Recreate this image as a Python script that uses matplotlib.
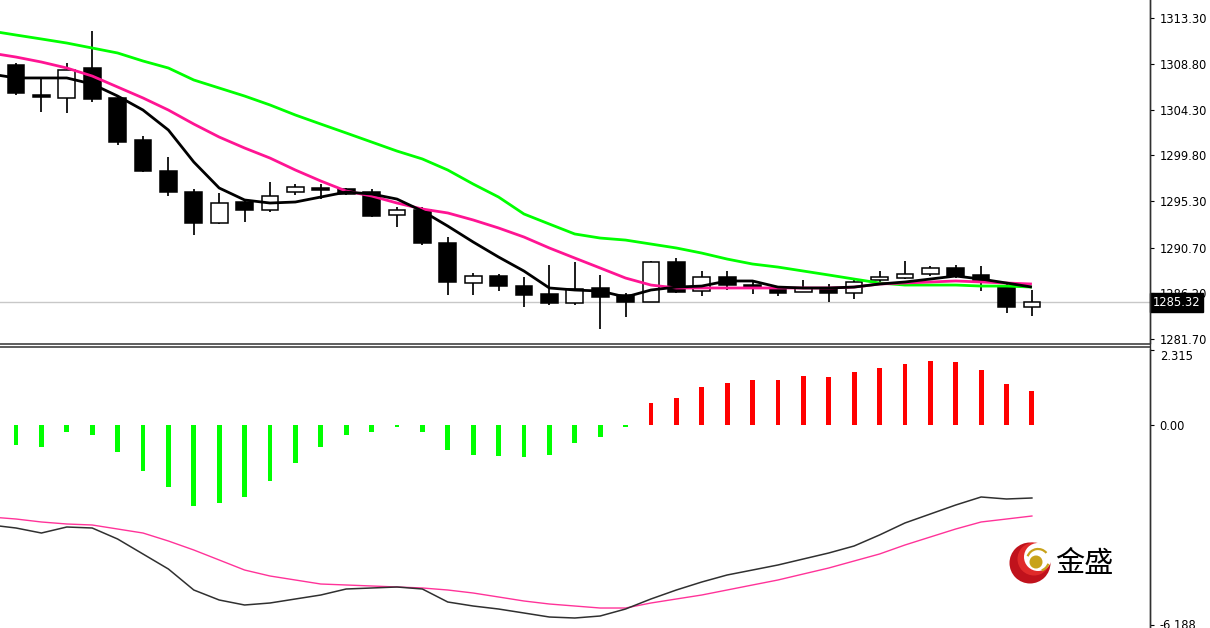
import matplotlib
matplotlib.use("Agg")
import matplotlib.pyplot as plt
from matplotlib.patches import Rectangle, Circle, Arc
from matplotlib.transforms import blended_transform_factory
import numpy as np

# ---------------- data ----------------
opens = [1308.70, 1305.74, 1305.45, 1308.40, 1305.45, 1301.31, 1298.25, 1296.18, 1293.13, 1295.20,
         1294.41, 1296.18, 1296.58, 1296.48, 1296.18, 1293.92, 1294.41, 1291.16, 1287.22, 1287.91,
         1286.92, 1286.13, 1285.25, 1286.73, 1286.04, 1285.35, 1289.29, 1286.43, 1287.81, 1287.02,
         1286.63, 1286.33, 1286.73, 1286.23, 1287.51, 1287.71, 1288.10, 1288.70, 1288.01, 1286.82,
         1284.85]
highs = [1308.89, 1307.42, 1308.89, 1312.05, 1305.64, 1301.70, 1299.63, 1296.48, 1296.09, 1295.40,
         1297.17, 1296.97, 1296.97, 1296.58, 1296.48, 1294.71, 1294.71, 1291.75, 1288.20, 1288.10,
         1287.81, 1288.99, 1289.29, 1288.01, 1286.23, 1289.39, 1289.68, 1288.40, 1288.40, 1287.51,
         1286.73, 1287.51, 1287.12, 1287.51, 1288.40, 1289.39, 1288.89, 1288.99, 1288.89, 1287.12,
         1286.53]
lows = [1305.74, 1304.07, 1303.97, 1305.05, 1300.81, 1298.15, 1295.79, 1291.95, 1293.03, 1293.23,
        1294.21, 1295.89, 1295.49, 1295.89, 1293.72, 1292.74, 1290.96, 1286.04, 1286.04, 1286.43,
        1284.85, 1285.05, 1285.05, 1282.69, 1283.87, 1285.30, 1286.25, 1285.94, 1286.53, 1286.13,
        1285.94, 1286.30, 1285.35, 1285.64, 1287.02, 1287.61, 1287.91, 1287.71, 1286.43, 1284.26,
        1283.97]
closes = [1305.94, 1305.54, 1308.20, 1305.35, 1301.11, 1298.25, 1296.18, 1293.13, 1295.10, 1294.41,
          1295.79, 1296.68, 1296.38, 1295.99, 1293.82, 1294.41, 1291.16, 1287.32, 1287.91, 1286.92,
          1286.04, 1285.25, 1286.63, 1285.84, 1285.35, 1289.29, 1286.33, 1287.81, 1287.02, 1286.73,
          1286.23, 1286.73, 1286.23, 1287.32, 1287.81, 1288.10, 1288.70, 1287.91, 1287.42, 1284.85,
          1285.32]

# moving averages, starting one bar before the first visible candle
ma_fast = [1307.81, 1307.42, 1307.42, 1307.42, 1306.82, 1305.64, 1304.26, 1302.29, 1299.14, 1296.58,
           1295.40, 1295.10, 1295.20, 1295.69, 1296.18, 1295.99, 1295.49, 1294.31, 1292.83, 1291.26,
           1289.78, 1288.40, 1286.73, 1286.53, 1286.43, 1285.84, 1286.53, 1286.82, 1286.92, 1287.42,
           1287.42, 1286.82, 1286.73, 1286.73, 1286.82, 1287.12, 1287.32, 1287.61, 1287.91, 1287.61,
           1287.22, 1286.82]
ma_mid = [1309.88, 1309.48, 1308.99, 1308.40, 1307.61, 1306.53, 1305.45, 1304.26, 1302.88, 1301.60,
          1300.52, 1299.53, 1298.35, 1297.27, 1296.28, 1295.79, 1295.10, 1294.51, 1294.12, 1293.43,
          1292.64, 1291.75, 1290.67, 1289.68, 1288.70, 1287.71, 1287.02, 1286.73, 1286.73, 1286.73,
          1286.73, 1286.73, 1286.73, 1286.73, 1286.82, 1287.12, 1287.22, 1287.32, 1287.42, 1287.32,
          1287.22, 1287.12]
ma_slow = [1312.05, 1311.65, 1311.26, 1310.86, 1310.37, 1309.88, 1309.09, 1308.40, 1307.22, 1306.43,
           1305.64, 1304.76, 1303.77, 1302.88, 1302.00, 1301.11, 1300.22, 1299.44, 1298.35, 1296.97,
           1295.69, 1294.02, 1293.03, 1292.05, 1291.65, 1291.45, 1291.06, 1290.67, 1290.17, 1289.58,
           1289.09, 1288.79, 1288.40, 1288.01, 1287.61, 1287.22, 1287.02, 1287.02, 1287.02, 1286.92,
           1286.92, 1286.82]

hist = [-0.617, -0.670, -0.207, -0.309, -0.824, -1.420, -1.914, -2.491, -2.407, -2.222,
        -1.719, -1.173, -0.670, -0.309, -0.216, -0.052, -0.216, -0.772, -0.926, -0.957,
        -0.988, -0.917, -0.556, -0.361, -0.062, 0.670, 0.824, 1.182, 1.306, 1.389,
        1.389, 1.522, 1.472, 1.645, 1.769, 1.873, 1.985, 1.935, 1.698, 1.265, 1.049]
osc_black = [-3.092, -3.185, -3.340, -3.154, -3.185, -3.525, -3.989, -4.453, -5.102, -5.411,
             -5.566, -5.504, -5.380, -5.257, -5.071, -5.040, -5.009, -5.071, -5.473, -5.597,
             -5.690, -5.813, -5.937, -5.968, -5.906, -5.690, -5.380, -5.102, -4.855, -4.638,
             -4.484, -4.329, -4.143, -3.958, -3.741, -3.401, -3.030, -2.752, -2.474, -2.226,
             -2.288, -2.257]
osc_pink = [-2.845, -2.907, -2.999, -3.061, -3.092, -3.216, -3.340, -3.587, -3.865, -4.174,
            -4.484, -4.669, -4.793, -4.917, -4.947, -4.978, -5.009, -5.040, -5.102, -5.195,
            -5.318, -5.442, -5.535, -5.597, -5.659, -5.659, -5.504, -5.380, -5.257, -5.102,
            -4.947, -4.793, -4.607, -4.422, -4.205, -3.989, -3.711, -3.463, -3.216, -2.999,
            -2.907, -2.814]

price_ticks = [1313.30, 1308.80, 1304.30, 1299.80, 1295.30, 1290.70, 1286.20, 1281.70]
osc_ticks = [2.315, 0.00, -6.188]
osc_tick_labels = ["2.315", "0.00", "-6.188"]
last_price = 1285.32
logo_text = "金盛"

# ---------------- layout ----------------
W, H = 1210, 628
fig = plt.figure(figsize=(W / 100, H / 100), dpi=100)
fig.patch.set_facecolor("white")
plot_right = 1150

ax = fig.add_axes([0, (H - 343) / H, plot_right / W, 343 / H])
ax2 = fig.add_axes([0, 0, plot_right / W, (H - 349) / H])

n = len(opens)
x = np.arange(n)
x_ma = np.arange(-1, n)
xlim = (-0.63, 44.65)

# ---- price panel ----
ax.set_xlim(*xlim)
ax.set_ylim(1281.31, 1315.10)
ax.axhline(last_price, color="#c8c8c8", lw=1.0, zorder=1)

body_w = 0.66
for i in range(n):
    o, h, l, c = opens[i], highs[i], lows[i], closes[i]
    ax.vlines(i, l, h, color="black", lw=1.25, zorder=3)
    bottom = min(o, c)
    height = max(abs(c - o), 0.08)
    face = "white" if c > o else "black"
    ax.add_patch(Rectangle((i - body_w / 2, bottom), body_w, height,
                           facecolor=face, edgecolor="black", lw=1.1, zorder=4))

ax.plot(x_ma, ma_slow, color="#00ff00", lw=2.0, zorder=5, solid_capstyle="butt")
ax.plot(x_ma, ma_mid, color="#ff1493", lw=2.0, zorder=6, solid_capstyle="butt")
ax.plot(x_ma, ma_fast, color="black", lw=2.0, zorder=7, solid_capstyle="butt")

for s in ["top", "left", "bottom"]:
    ax.spines[s].set_visible(False)
ax.spines["right"].set_color("#303030")
ax.spines["right"].set_linewidth(1.0)
ax.set_xticks([])
ax.yaxis.tick_right()
ax.set_yticks(price_ticks)
ax.set_yticklabels([f"{t:.2f}" for t in price_ticks])
ax.tick_params(axis="y", direction="out", length=3, width=0.8, pad=4,
               labelsize=8.3, colors="black")

trans = blended_transform_factory(ax.transAxes, ax.transData)
ax.text(1.0025, last_price, f"{last_price:.2f}", transform=trans, color="white",
        fontsize=8.3, va="center", ha="left", clip_on=False, zorder=10,
        bbox=dict(boxstyle="square,pad=0.25", facecolor="black", edgecolor="black"))

# ---- oscillator panel ----
ax2.set_xlim(*xlim)
ax2.set_ylim(-6.277, 2.35)
bar_colors = ["#ff0000" if v > 0 else "#00ff00" for v in hist]
ax2.bar(x, hist, width=0.19, color=bar_colors, zorder=3)
ax2.plot(x_ma, osc_pink, color="#ff3399", lw=1.0, zorder=4)
ax2.plot(x_ma, osc_black, color="#303030", lw=1.1, zorder=5)

for s in ["top", "left", "bottom"]:
    ax2.spines[s].set_visible(False)
ax2.spines["right"].set_color("#303030")
ax2.spines["right"].set_linewidth(1.0)
ax2.set_xticks([])
ax2.yaxis.tick_right()
ax2.set_yticks(osc_ticks)
ax2.set_yticklabels(osc_tick_labels)
ax2.tick_params(axis="y", direction="out", length=3, width=0.8, pad=4,
                labelsize=8.3, colors="black")
lbls = ax2.get_yticklabels()
lbls[0].set_va("top")
lbls[2].set_va("center")

# ---- overlay: separator and logo ----
ov = fig.add_axes([0, 0, 1, 1], facecolor="none")
ov.set_xlim(0, W)
ov.set_ylim(H, 0)
ov.axis("off")
ov.plot([0, plot_right], [343.5, 343.5], color="#505050", lw=1.3)
ov.plot([0, plot_right], [347.0, 347.0], color="#505050", lw=1.3)
ov.plot([plot_right, plot_right], [0, H], color="#303030", lw=1.0)

ov.add_patch(Circle((1030, 563), 20.5, facecolor="#c0121c", edgecolor="none"))
ov.add_patch(Circle((1034, 559), 16.5, facecolor="#e02a2a", edgecolor="none"))
ov.add_patch(Circle((1038, 557), 14.0, facecolor="white", edgecolor="none"))
ov.add_patch(Circle((1036, 562), 6.5, facecolor="#c8a21a", edgecolor="none"))
ov.add_patch(Arc((1038, 560), 22, 22, theta1=200, theta2=320, color="#c8a21a", lw=1.6))
ov.add_patch(Arc((1038, 560), 22, 22, theta1=20, theta2=70, color="#c8a21a", lw=1.6))
ov.text(1055, 564, logo_text, fontsize=21, color="black", va="center", ha="left",
        family=["Noto Sans CJK SC", "DejaVu Sans"])

fig.savefig("out.png", dpi=100, facecolor="white")
